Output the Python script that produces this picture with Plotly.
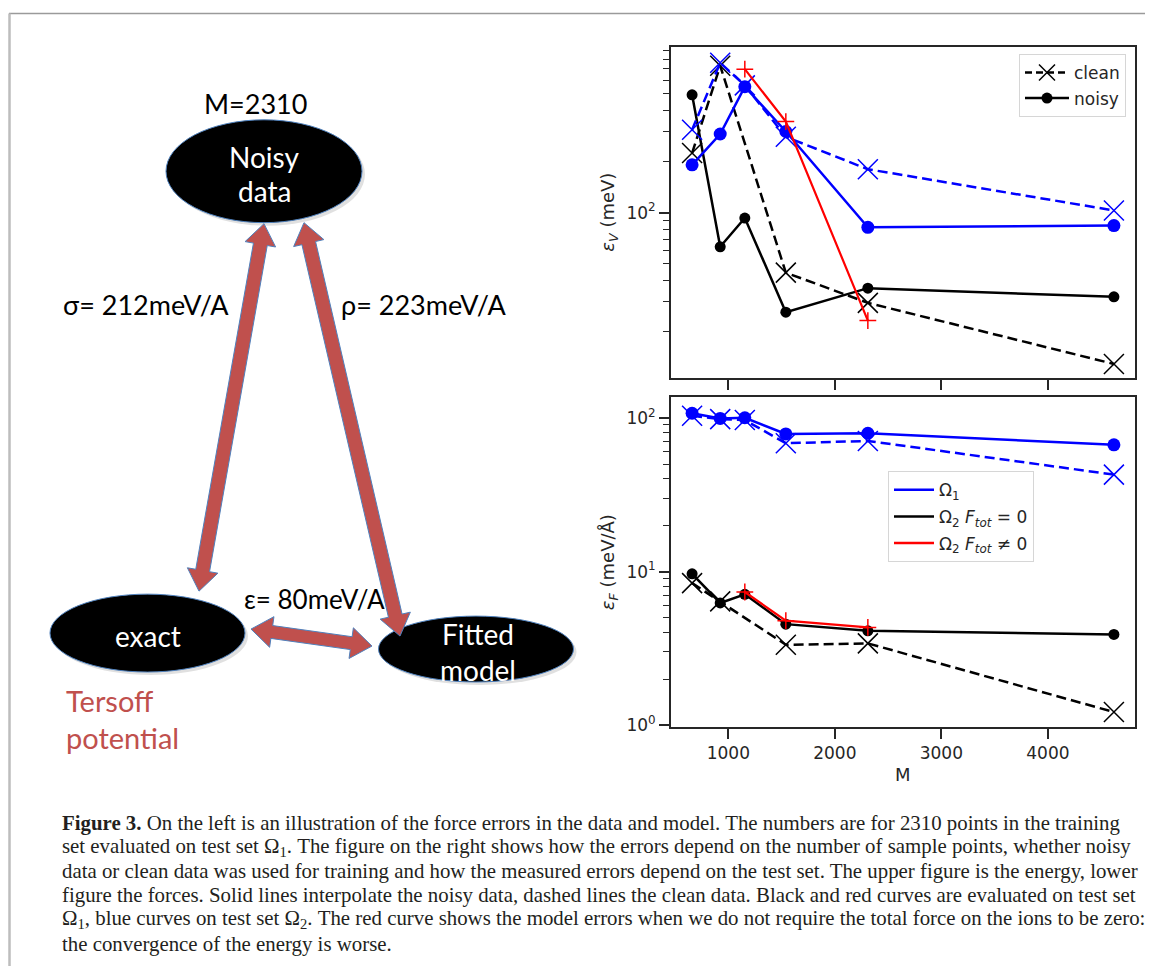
import plotly.graph_objects as go

W, H = 1153, 974
OFF = 8  # the page body has an 8px margin on every side; the figure sits inside it
FW, FH = W - 2 * OFF, H - 2 * OFF
YSCALE = 0.992  # measured vertical compression of the photographed page

# ---------------- data ----------------
M = [660, 924, 1155, 1540, 2310, 4620]
M_clean_black = [660, 924, 1540, 2310, 4620]
M_red = [1155, 1540, 2310]

# energy errors (meV), upper panel
ev_black_noisy = [493, 63, 93, 26, 36, 32]
ev_black_clean = [224, 730, 44.4, 29.5, 12.9]
ev_blue_noisy = [191, 290, 550, 300, 82, 84]
ev_blue_clean = [307, 760, 560, 279, 180, 103]
ev_red = [697, 343, 23.2]

# force errors (meV/A), lower panel
ef_blue_noisy = [107, 99, 100, 78.5, 79.3, 66.7]
ef_blue_clean = [103, 98, 96.6, 68.3, 70.7, 42.7]
ef_black_noisy = [9.66, 6.25, 7.11, 4.55, 4.12, 3.9]
ef_black_clean = [8.41, 6.4, 3.34, 3.41, 1.22]
ef_red = [7.36, 4.79, 4.33]

x_ticks = [1000, 2000, 3000, 4000]
x_ticklabels = ["1000", "2000", "3000", "4000"]
ev_ticks = [100]
ev_ticklabels = ["10<sup>2</sup>"]
ef_ticks = [1, 10, 100]
ef_ticklabels = ["10<sup>0</sup>", "10<sup>1</sup>", "10<sup>2</sup>"]
ev_minor = [20, 30, 40, 50, 60, 70, 80, 90, 200, 300, 400, 500, 600, 700, 800, 900]
ef_minor = [2, 3, 4, 5, 6, 7, 8, 9, 20, 30, 40, 50, 60, 70, 80, 90]

caption_lines = [
    "<b>Figure 3.</b> On the left is an illustration of the force errors in the data and model. The numbers are for 2310 points in the training",
    "set evaluated on test set Ω<sub>1</sub>. The figure on the right shows how the errors depend on the number of sample points, whether noisy",
    "data or clean data was used for training and how the measured errors depend on the test set. The upper figure is the energy, lower",
    "figure the forces. Solid lines interpolate the noisy data, dashed lines the clean data. Black and red curves are evaluated on test set",
    "Ω<sub>1</sub>, blue curves on test set Ω<sub>2</sub>. The red curve shows the model errors when we do not require the total force on the ions to be zero:",
    "the convergence of the energy is worse.",
]

# ---------------- helpers ----------------
def px(x):
    return (x - OFF) / FW


def py(y):
    yc = 13.5 + (y - 13.5) / YSCALE
    return 1 - (yc - OFF) / FH


BLUE = "#0000ff"
BLACK = "#000000"
RED = "#ff0000"
AX = "#262626"
DASH = "10px,5px"

fig = go.Figure()


def add(x, y, color, dash, marker, msize, xa, ya, lw=2.5, mlw=1.5):
    if marker == "circle":
        mk = dict(symbol="circle", size=msize, color=color)
    else:
        mk = dict(symbol=marker, size=msize, color=color, line=dict(color=color, width=mlw))
    fig.add_trace(go.Scatter(x=x, y=y, mode="lines+markers", xaxis=xa, yaxis=ya,
                             line=dict(color=color, width=lw, dash=dash), marker=mk,
                             showlegend=False, hoverinfo="skip"))


# upper panel
add(M_clean_black, ev_black_clean, BLACK, DASH, "x-thin", 20, "x", "y")
add(M, ev_black_noisy, BLACK, "solid", "circle", 11, "x", "y")
add(M, ev_blue_clean, BLUE, DASH, "x-thin", 20, "x", "y")
add(M, ev_blue_noisy, BLUE, "solid", "circle", 13, "x", "y")
add(M_red, ev_red, RED, "solid", "cross-thin", 12, "x", "y", lw=2.2)

# lower panel
add(M_clean_black, ef_black_clean, BLACK, DASH, "x-thin", 20, "x2", "y2")
add(M, ef_black_noisy, BLACK, "solid", "circle", 11, "x2", "y2")
add(M, ef_blue_clean, BLUE, DASH, "x-thin", 20, "x2", "y2")
add(M, ef_blue_noisy, BLUE, "solid", "circle", 13, "x2", "y2")
add(M_red, ef_red, RED, "solid", "cross-thin", 12, "x2", "y2", lw=2.2)

# legend entries
fig.add_trace(go.Scatter(x=[None], y=[None], mode="lines+markers", name="clean", legend="legend",
                         legendgroup="a",
                         line=dict(color=BLACK, width=2.5, dash="7px,4px"),
                         marker=dict(symbol="x-thin", size=16, color=BLACK, line=dict(color=BLACK, width=1.5))))
fig.add_trace(go.Scatter(x=[None], y=[None], mode="lines+markers", name="noisy", legend="legend",
                         legendgroup="b",
                         line=dict(color=BLACK, width=2.5), marker=dict(symbol="circle", size=11, color=BLACK)))
fig.add_trace(go.Scatter(x=[None], y=[None], mode="lines", name="Ω<sub>1</sub>", legend="legend2",
                         legendgroup="c", xaxis="x2", yaxis="y2", line=dict(color=BLUE, width=2.5)))
fig.add_trace(go.Scatter(x=[None], y=[None], mode="lines", name="Ω<sub>2</sub> <i>F<sub>tot</sub></i> = 0",
                         legend="legend2", legendgroup="d", xaxis="x2", yaxis="y2",
                         line=dict(color=BLACK, width=2.5)))
fig.add_trace(go.Scatter(x=[None], y=[None], mode="lines", name="Ω<sub>2</sub> <i>F<sub>tot</sub></i> ≠ 0",
                         legend="legend2", legendgroup="e", xaxis="x2", yaxis="y2",
                         line=dict(color=RED, width=2.5)))

tickfont = dict(family="DejaVu Sans", size=17, color=AX)
common = dict(showline=True, linecolor=AX, linewidth=1.8, mirror=True, ticks="outside",
              ticklen=10, tickwidth=1.5, tickcolor=AX, showgrid=False, zeroline=False,
              tickfont=tickfont)

xdom = [px(671), px(1135)]
legfont = dict(family="DejaVu Sans", size=17, color=AX)
fig.update_layout(
    width=FW, height=FH, margin=dict(l=0, r=0, t=0, b=0),
    paper_bgcolor="white", plot_bgcolor="white",
    xaxis=dict(domain=xdom, range=[462, 4818], anchor="y", tickvals=x_ticks,
               showticklabels=False, **common),
    yaxis=dict(domain=[py(378.6), py(46.7)], type="log", range=[1.028, 2.976], anchor="x",
               tickvals=ev_ticks, ticktext=ev_ticklabels,
               minor=dict(tickmode="array", tickvals=ev_minor, ticks="outside", ticklen=6,
                          tickwidth=1.3, tickcolor=AX),
               **common),
    xaxis2=dict(domain=xdom, range=[462, 4818], anchor="y2", tickvals=x_ticks,
                ticktext=x_ticklabels, **common),
    yaxis2=dict(domain=[py(727.7), py(397.6)], type="log", range=[-0.0086, 2.135], anchor="x2",
                tickvals=ef_ticks, ticktext=ef_ticklabels,
                minor=dict(tickmode="array", tickvals=ef_minor, ticks="outside", ticklen=6,
                           tickwidth=1.3, tickcolor=AX),
                **common),
    legend=dict(x=px(1126), xanchor="right", y=py(54), yanchor="top", bgcolor="white",
                bordercolor="#d6d6d6", borderwidth=1, itemwidth=44,
                font=legfont, tracegroupgap=0.5),
    legend2=dict(x=px(888), xanchor="left", y=py(472), yanchor="top", bgcolor="white",
                 bordercolor="#d6d6d6", borderwidth=1, itemwidth=40,
                 font=legfont, tracegroupgap=1.5),
)

ann = []
# axis titles
ann.append(dict(text="<i>ε<sub>V</sub></i> (meV)", x=px(609), y=py(213), textangle=-90,
                font=dict(family="DejaVu Sans", size=18, color=AX)))
ann.append(dict(text="<i>ε<sub>F</sub></i> (meV/Å)", x=px(609), y=py(563), textangle=-90,
                font=dict(family="DejaVu Sans", size=18, color=AX)))
ann.append(dict(text="M", x=px(903), y=py(776), font=dict(family="DejaVu Sans", size=18, color=AX)))

# caption
for i, line in enumerate(caption_lines):
    ann.append(dict(text=line, x=px(60), y=py(824 + 24.2 * i), xanchor="left",
                    font=dict(family="Liberation Serif", size=20.85, color="#231f20")))

# diagram texts
DF = "Lato"
ann += [
    dict(text="M=2310", x=px(255), y=py(104), font=dict(family=DF, size=27, color="black")),
    dict(text="Noisy", x=px(264), y=py(157), font=dict(family=DF, size=28, color="white")),
    dict(text="data", x=px(264), y=py(191), font=dict(family=DF, size=28, color="white")),
    dict(text="σ= 212meV/A", x=px(61), y=py(305), xanchor="left", font=dict(family=DF, size=27, color="black")),
    dict(text="ρ= 223meV/A", x=px(339), y=py(305), xanchor="left", font=dict(family=DF, size=27, color="black")),
    dict(text="ε= 80meV/A", x=px(242), y=py(600), xanchor="left", font=dict(family=DF, size=26, color="black")),
    dict(text="exact", x=px(148), y=py(637), font=dict(family=DF, size=28, color="white")),
    dict(text="Fitted", x=px(478), y=py(635), font=dict(family=DF, size=28, color="white")),
    dict(text="model", x=px(478), y=py(671), font=dict(family=DF, size=28, color="white")),
    dict(text="Tersoff", x=px(64), y=py(702), xanchor="left", font=dict(family=DF, size=29, color="#c0504d")),
    dict(text="potential", x=px(64), y=py(739), xanchor="left", font=dict(family=DF, size=29, color="#c0504d")),
]
for a in ann:
    a.setdefault("xanchor", "center")
    a.update(xref="paper", yref="paper", yanchor="middle", showarrow=False)
fig.update_layout(annotations=ann)

# ---------------- diagram shapes ----------------
shapes = []
# frame lines
shapes.append(dict(type="line", xref="paper", yref="paper", x0=px(9), x1=px(1153), y0=py(13.5), y1=py(13.5),
                   line=dict(color="#9a9a9a", width=1.5)))
shapes.append(dict(type="line", xref="paper", yref="paper", x0=px(9.5), x1=px(9.5), y0=py(13.5), y1=py(974),
                   line=dict(color="#bdbdbd", width=2.5)))

ellipses = [(264, 171.5, 98, 51.5), (147.5, 634, 97.5, 39), (476, 650, 97.5, 33)]
for cx, cy, rx, ry in ellipses:
    shapes.append(dict(type="circle", xref="paper", yref="paper",
                       x0=px(cx - rx + 3), x1=px(cx + rx + 3), y0=py(cy - ry + 3), y1=py(cy + ry + 3),
                       fillcolor="rgba(0,0,0,0.12)", line=dict(width=0), layer="above"))
    shapes.append(dict(type="circle", xref="paper", yref="paper",
                       x0=px(cx - rx), x1=px(cx + rx), y0=py(cy - ry), y1=py(cy + ry),
                       fillcolor="black", line=dict(color="#4f81bd", width=1), layer="above"))


def arrow(a, b, w=7, hw=15.5, hl=21):
    ax_, ay_ = a
    bx, by = b
    dx, dy = bx - ax_, by - ay_
    L = (dx * dx + dy * dy) ** 0.5
    ux, uy = dx / L, dy / L
    nx, ny = -uy, ux

    def p(x, y):
        return f"{px(x):.5f},{py(y):.5f}"

    pts = [
        (ax_, ay_),
        (ax_ + ux * hl + nx * hw, ay_ + uy * hl + ny * hw),
        (ax_ + ux * hl + nx * w, ay_ + uy * hl + ny * w),
        (bx - ux * hl + nx * w, by - uy * hl + ny * w),
        (bx - ux * hl + nx * hw, by - uy * hl + ny * hw),
        (bx, by),
        (bx - ux * hl - nx * hw, by - uy * hl - ny * hw),
        (bx - ux * hl - nx * w, by - uy * hl - ny * w),
        (ax_ + ux * hl - nx * w, ay_ + uy * hl - ny * w),
        (ax_ + ux * hl - nx * hw, ay_ + uy * hl - ny * hw),
    ]
    path = "M " + " L ".join(p(*q) for q in pts) + " Z"
    return dict(type="path", xref="paper", yref="paper", path=path, fillcolor="#c0504d",
                line=dict(color="#4f81bd", width=1), layer="above")


arrows = [((264, 224), (199, 592)), ((304, 223), (400, 637)), ((251, 630), (372, 647))]
for a, b in arrows:
    shapes.append(arrow(a, b, w=7 if a[1] < 300 else 6.5, hw=15.5, hl=21))

fig.update_layout(shapes=shapes)

fig.write_html("out.html")
